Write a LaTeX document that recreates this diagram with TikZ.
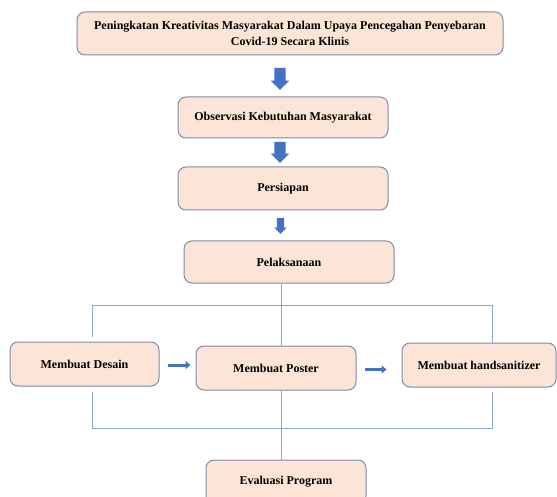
\documentclass[tikz,border=0pt]{standalone}
\usepackage{fontspec}
\setmainfont{Liberation Serif}
\usetikzlibrary{calc,positioning,shapes.arrows,arrows.meta}
\definecolor{kotakisi}{HTML}{FCE4D6}
\definecolor{kotakgaris}{HTML}{7D8BA6}
\definecolor{garis}{HTML}{8EA6CB}
\definecolor{panah}{HTML}{4472C4}
\tikzset{
	kotak/.style={draw=kotakgaris, fill=kotakisi, line width=1pt, rounded corners=8pt, align=center, inner sep=0pt, font=\fontsize{12}{16}\selectfont\bfseries},
	panahblok/.style={single arrow, fill=panah, draw=none, shape border rotate=270, inner sep=5.5pt, single arrow head extend=3.5pt, single arrow head indent=0pt, minimum height=22pt},
	garishub/.style={draw=garis, line width=1pt},
	panahkecil/.style={draw=panah, line width=3pt, -{Triangle[length=5pt,width=8pt]}}
}
\begin{document}
\begin{tikzpicture}[x=1pt,y=-1pt]
			\useasboundingbox (0,0) rectangle (557,497);
			\node[kotak, minimum width=426pt, minimum height=43pt] (judul) at (290,33.5) {Peningkatan Kreativitas Masyarakat Dalam Upaya Pencegahan Penyebaran\\Covid-19 Secara Klinis};
			\node[kotak, minimum width=210pt, minimum height=41pt] (observasi) at (283,117.5) {Observasi Kebutuhan Masyarakat};
			\node[kotak, minimum width=210pt, minimum height=43pt] (persiapan) at (283,188.5) {Persiapan};
			\node[kotak, minimum width=210pt, minimum height=42pt] (pelaksanaan) at (289,262) {Pelaksanaan};
			\node[kotak, minimum width=149pt, minimum height=44pt] (desain) at (84.5,364) {Membuat Desain};
			\node[kotak, minimum width=160pt, minimum height=44pt] (poster) at (276,368) {Membuat Poster};
			\node[kotak, minimum width=154pt, minimum height=44pt] (handsanitizer) at (479,365) {Membuat handsanitizer};
			\node[kotak, minimum width=160pt, minimum height=44pt] (evaluasi) at (286,482) {Evaluasi Program};
			\node[panahblok] (panah1) at (280,76) {};
			\node[panahblok, minimum height=21pt] (panah2) at (280,149.5) {};
			\node[panahblok, minimum height=16pt, inner sep=3.5pt, single arrow head extend=2.5pt] (panah3) at (280.5,224) {};
			\coordinate (kiriatas) at (92,305);
			\coordinate (kananatas) at (492,305);
			\coordinate (kiribawah) at (92,428);
			\coordinate (kananbawah) at (492,428);
			\coordinate (tengah) at (281,305);
			\draw[garishub] (pelaksanaan.south -| tengah) -- (poster.north -| tengah);
			\draw[garishub] (kiriatas) -- (kananatas);
			\draw[garishub] (kiriatas) -- ($(desain.north -| kiriatas)+(0,-5)$);
			\draw[garishub] (kananatas) -- (handsanitizer.north -| kananatas);
			\draw[garishub] ($(desain.south -| kiribawah)+(0,5)$) -- (kiribawah) -- (kananbawah) -- ($(handsanitizer.south -| kananbawah)+(0,4)$);
			\draw[garishub] (poster.south -| tengah) -- (evaluasi.north -| tengah);
			\draw[panahkecil] ($(desain.east)+(8,1)$) -- ($(desain.east -| poster.west)+(-5,1)$);
			\draw[panahkecil] ($(poster.east)+(8,1.5)$) -- ($(poster.east -| handsanitizer.west)+(-15,1.5)$);
		\end{tikzpicture}
\end{document}
